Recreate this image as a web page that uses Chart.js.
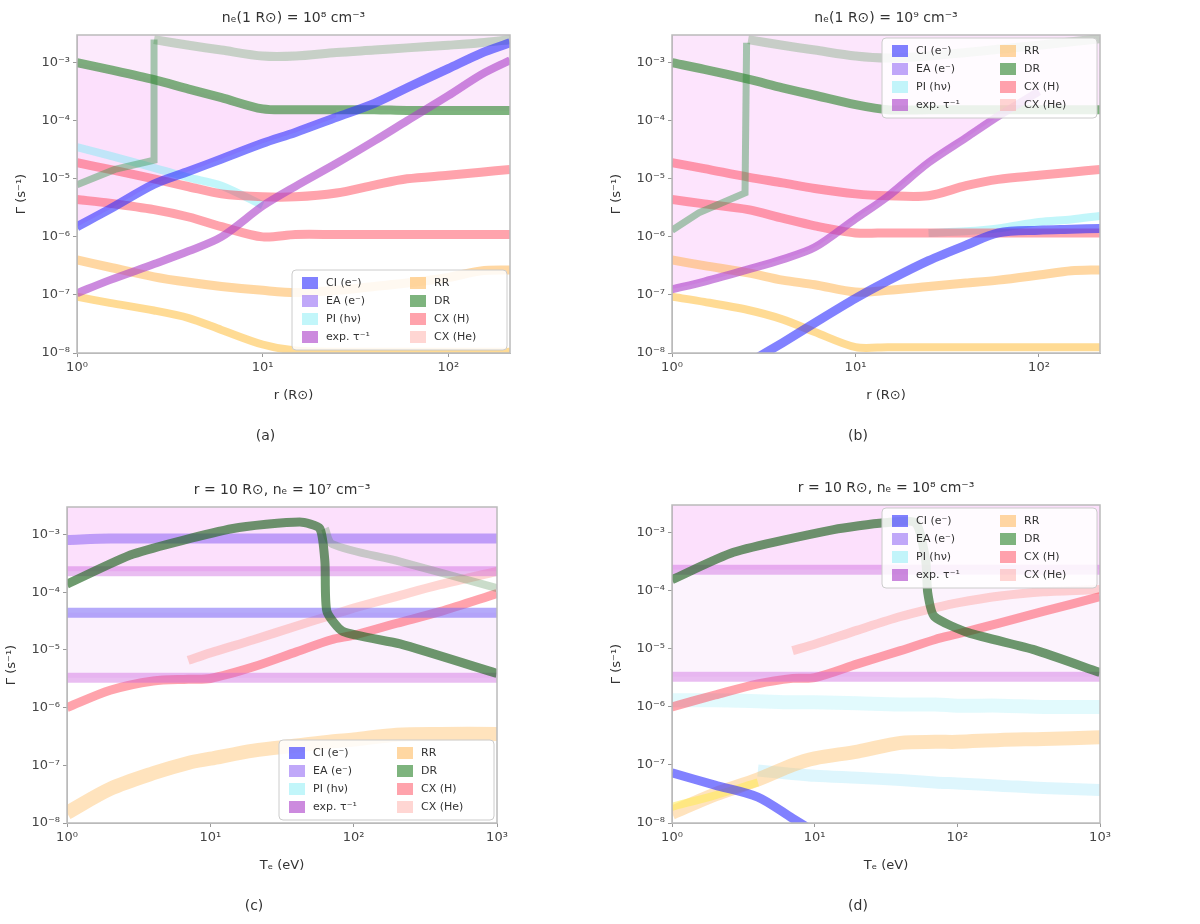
<!DOCTYPE html>
<html>
<head>
<meta charset="utf-8">
<script src="https://cdn.jsdelivr.net/npm/chart.js@4"></script>
<style>
  body { margin: 0; background: #fff; }
  canvas { position: absolute; }
</style>
</head>
<body>
<canvas id="chartA" width="600" height="462" style="left:0;top:0"></canvas>
<canvas id="chartB" width="600" height="462" style="left:600px;top:0"></canvas>
<canvas id="chartC" width="600" height="462" style="left:0;top:462px"></canvas>
<canvas id="chartD" width="600" height="462" style="left:600px;top:462px"></canvas>
<script>
// ---- axis ticks / labels
var topTicksX = [1, 10, 100];
var botTicksX = [1, 10, 100, 1000];
var ticksY = [1e-8, 1e-7, 1e-6, 1e-5, 1e-4, 1e-3];
var panelTitles = ["nₑ(1 R⊙) = 10⁸ cm⁻³", "nₑ(1 R⊙) = 10⁹ cm⁻³", "r = 10 R⊙, nₑ = 10⁷ cm⁻³", "r = 10 R⊙, nₑ = 10⁸ cm⁻³"];
var panelCaptions = ["(a)", "(b)", "(c)", "(d)"];
var legendNames = ["CI (e⁻)", "EA (e⁻)", "PI (hν)", "exp. τ⁻¹", "RR", "DR", "CX (H)", "CX (He)"];

// ---- top panels, x = r (R_sun)
var rGrid = [1, 1.5, 2.6, 4, 6, 10, 15, 25, 40, 60, 100, 150, 215];

var aGreen = [1.0e-3, 7.6e-4, 5.1e-4, 3.5e-4, 2.5e-4, 1.6e-4, 1.55e-4, 1.55e-4, 1.55e-4, 1.5e-4, 1.5e-4, 1.5e-4, 1.5e-4];
var aGreenUp = [null, null, 2.5e-3, 2.0e-3, 1.65e-3, 1.3e-3, 1.3e-3, 1.5e-3, 1.65e-3, 1.8e-3, 2.0e-3, 2.2e-3, 2.5e-3];
var aJumpR = [1, 1.6, 2.6, 2.6];
var aJumpY = [7.9e-6, 1.45e-5, 2.1e-5, 2.5e-3];
var aBlue = [1.5e-6, 3.0e-6, 8.1e-6, 1.35e-5, 2.2e-5, 4.1e-5, 6.3e-5, 1.15e-4, 2.0e-4, 3.7e-4, 7.9e-4, 1.45e-3, 2.2e-3];
var aPurple = [1.07e-7, 1.8e-7, 3.4e-7, 5.7e-7, 1.0e-6, 3.4e-6, 7.4e-6, 1.85e-5, 4.5e-5, 1.0e-4, 2.7e-4, 6.2e-4, 1.1e-3];
var aRedUp = [1.9e-5, 1.45e-5, 1.0e-5, 7.3e-6, 5.5e-6, 4.9e-6, 4.9e-6, 5.7e-6, 7.8e-6, 1.0e-5, 1.15e-5, 1.3e-5, 1.45e-5];
var aRedLow = [4.4e-6, 3.8e-6, 2.95e-6, 2.2e-6, 1.5e-6, 1.0e-6, 1.1e-6, 1.1e-6, 1.1e-6, 1.1e-6, 1.1e-6, 1.1e-6, 1.1e-6];
var aOrange = [4.0e-7, 3.0e-7, 2.05e-7, 1.65e-7, 1.4e-7, 1.2e-7, 1.1e-7, 1.2e-7, 1.4e-7, 1.6e-7, 2.0e-7, 2.6e-7, 2.7e-7];
var aYellow = [9.3e-8, 7.3e-8, 5.4e-8, 4.0e-8, 2.5e-8, 1.4e-8, 1.1e-8, 1.05e-8, 1.05e-8, 1.05e-8, 1.05e-8, 1.05e-8, 1.05e-8];
var aCyan = [3.5e-5, 2.5e-5, 1.55e-5, 1.05e-5, 7.6e-6, 3.5e-6, null, null, null, null, null, null, null];

var bGreen = [1.0e-3, 7.7e-4, 5.2e-4, 3.7e-4, 2.75e-4, 1.9e-4, 1.55e-4, 1.55e-4, 1.55e-4, 1.55e-4, 1.55e-4, 1.55e-4, 1.55e-4];
var bGreenUp = [null, null, 2.5e-3, 2.0e-3, 1.65e-3, 1.3e-3, 1.2e-3, 1.3e-3, 1.5e-3, 1.7e-3, 2.0e-3, 2.3e-3, 2.6e-3];
var bJumpR = [1, 1.4, 2.5, 2.55];
var bJumpY = [1.3e-6, 2.6e-6, 5.7e-6, 2.2e-3];
var bPurple = [1.25e-7, 1.7e-7, 2.75e-7, 4.1e-7, 6.6e-7, 2.05e-6, 5.0e-6, 1.9e-5, 5.1e-5, 1.2e-4, 3.2e-4, null, null];
var bBlue = [null, null, 6.7e-9, 1.5e-8, 3.3e-8, 8.7e-8, 1.75e-7, 3.9e-7, 7.2e-7, 1.17e-6, 1.3e-6, 1.35e-6, 1.4e-6];
var bRedUp = [1.9e-5, 1.5e-5, 1.07e-5, 8.5e-6, 6.8e-6, 5.5e-6, 5.1e-6, 5.1e-6, 7.6e-6, 9.8e-6, 1.15e-5, 1.3e-5, 1.45e-5];
var bRedLow = [4.4e-6, 3.7e-6, 2.95e-6, 2.1e-6, 1.55e-6, 1.17e-6, 1.17e-6, 1.17e-6, 1.17e-6, 1.17e-6, 1.17e-6, 1.17e-6, 1.17e-6];
var bOrange = [4.0e-7, 3.2e-7, 2.4e-7, 1.8e-7, 1.5e-7, 1.12e-7, 1.2e-7, 1.4e-7, 1.6e-7, 1.8e-7, 2.2e-7, 2.6e-7, 2.7e-7];
var bYellow = [9.3e-8, 7.6e-8, 5.5e-8, 3.8e-8, 2.3e-8, 1.26e-8, 1.26e-8, 1.26e-8, 1.26e-8, 1.26e-8, 1.26e-8, 1.26e-8, 1.26e-8];
var bCyan = [null, null, null, null, null, null, null, 1.17e-6, 1.25e-6, 1.4e-6, 1.8e-6, 2.0e-6, 2.3e-6];

// ---- bottom panels, x = T_e (eV)
var tGrid = [1, 2, 4, 7, 10, 20, 40, 70, 100, 200, 400, 1000];

var cGreenT = [1, 2.9, 14.4, 42, 58, 63, 65, 84, 211, 1000];
var cGreenY = [1.38e-4, 4.6e-4, 1.27e-3, 1.65e-3, 1.27e-3, 3.4e-4, 4.7e-5, 2.1e-5, 1.27e-5, 3.9e-6];
var cGreenUpT = [63, 71, 211, 1000];
var cGreenUpY = [1.27e-3, 6.8e-4, 3.4e-4, 1.18e-4];
var cViolet = [8.0e-4, 8.5e-4, 8.5e-4, 8.5e-4, 8.5e-4, 8.5e-4, 8.5e-4, 8.5e-4, 8.5e-4, 8.5e-4, 8.5e-4, 8.5e-4];
var cMagUp = [2.3e-4, 2.3e-4, 2.3e-4, 2.3e-4, 2.3e-4, 2.3e-4, 2.3e-4, 2.3e-4, 2.3e-4, 2.3e-4, 2.3e-4, 2.3e-4];
var cBlueViolet = [4.4e-5, 4.4e-5, 4.4e-5, 4.4e-5, 4.4e-5, 4.4e-5, 4.4e-5, 4.4e-5, 4.4e-5, 4.4e-5, 4.4e-5, 4.4e-5];
var cMagLow = [3.3e-6, 3.3e-6, 3.3e-6, 3.3e-6, 3.3e-6, 3.3e-6, 3.3e-6, 3.3e-6, 3.3e-6, 3.3e-6, 3.3e-6, 3.3e-6];
var cRed = [1.0e-6, 2.0e-6, 2.9e-6, 3.1e-6, 3.2e-6, 5.1e-6, 9.3e-6, 1.5e-5, 1.8e-5, 2.9e-5, 4.6e-5, 9.5e-5];
var cSalmon = [null, null, null, 6.6e-6, 8.9e-6, 1.5e-5, 2.6e-5, 4.0e-5, 5.3e-5, 8.5e-5, 1.35e-4, 2.3e-4];
var cOrange = [1.5e-8, 3.9e-8, 7.3e-8, 1.1e-7, 1.3e-7, 1.8e-7, 2.2e-7, 2.6e-7, 2.8e-7, 3.4e-7, 3.5e-7, 3.5e-7];

var dGreenT = [1, 2.7, 13.6, 30.6, 51, 60, 62, 69, 119, 348, 1000];
var dGreenY = [1.55e-4, 4.6e-4, 1.13e-3, 1.48e-3, 1.48e-3, 3.4e-4, 9.3e-5, 3.6e-5, 1.9e-5, 9.6e-6, 3.9e-6];
var dMagUp = [2.3e-4, 2.3e-4, 2.3e-4, 2.3e-4, 2.3e-4, 2.3e-4, 2.3e-4, 2.3e-4, 2.3e-4, 2.3e-4, 2.3e-4, 2.3e-4];
var dMagLow = [3.3e-6, 3.3e-6, 3.3e-6, 3.3e-6, 3.3e-6, 3.3e-6, 3.3e-6, 3.3e-6, 3.3e-6, 3.3e-6, 3.3e-6, 3.3e-6];
var dRed = [1.0e-6, 1.6e-6, 2.5e-6, 3.1e-6, 3.2e-6, 5.5e-6, 9.3e-6, 1.45e-5, 1.8e-5, 2.8e-5, 4.4e-5, 7.9e-5];
var dSalmon = [null, null, null, 9.3e-6, 1.2e-5, 2.1e-5, 3.6e-5, 5.1e-5, 6.2e-5, 8.1e-5, 9.6e-5, 1.05e-4];
var dOrange = [1.5e-8, 3.1e-8, 5.6e-8, 1.0e-7, 1.3e-7, 1.7e-7, 2.4e-7, 2.5e-7, 2.5e-7, 2.7e-7, 2.8e-7, 3.0e-7];
var dBlue = [7.3e-8, 4.5e-8, 2.8e-8, 1.2e-8, 7.0e-9, null, null, null, null, null, null, null];
var dYellow = [1.9e-8, 3.0e-8, 5.0e-8, null, null, null, null, null, null, null, null, null];
var dCyanUp = [1.3e-6, 1.3e-6, 1.25e-6, 1.2e-6, 1.2e-6, 1.15e-6, 1.1e-6, 1.1e-6, 1.05e-6, 1.05e-6, 1.0e-6, 1.0e-6];
var dCyanLow = [null, null, 8e-8, 7e-8, 6.5e-8, 6.0e-8, 5.5e-8, 5e-8, 4.8e-8, 4.4e-8, 4.0e-8, 3.7e-8];

// ---- colours
var BLUE = "rgba(45,45,255,0.6)";
var VIOLET = "rgba(150,110,245,0.6)";
var CYAN = "rgba(120,235,245,0.45)";
var MAGENTA = "rgba(170,60,200,0.6)";
var ORANGE = "rgba(255,175,70,0.5)";
var GREEN = "rgba(40,130,40,0.6)";
var RED = "rgba(255,50,70,0.45)";
var SALMON = "rgba(255,120,110,0.3)";
var YELLOW = "rgba(255,235,80,0.55)";
var NONE = "rgba(0,0,0,0)";
var legendColors = [BLUE, VIOLET, CYAN, MAGENTA, ORANGE, GREEN, RED, SALMON];

Chart.defaults.font.family = "'DejaVu Sans', sans-serif";
Chart.defaults.color = "#333";

var supMap = { "-": "⁻", "0": "⁰", "1": "¹", "2": "²", "3": "³", "4": "⁴", "5": "⁵", "6": "⁶", "7": "⁷", "8": "⁸", "9": "⁹" };
function pow10(v) {
  var e = String(Math.round(Math.log10(v)));
  return "10" + e.split("").map(function (c) { return supMap[c]; }).join("");
}

function pts(xs, ys) {
  return xs.map(function (x, i) { return { x: x, y: ys[i] }; });
}
function upTo(xs, ys, lim) {
  return ys.map(function (v, i) { return xs[i] <= lim ? v : null; });
}
function line(xs, ys, color, width, extra) {
  return Object.assign({
    data: pts(xs, ys), borderColor: color, borderWidth: width,
    pointRadius: 0, fill: false, tension: 0.3, spanGaps: false, order: 1,
  }, extra || {});
}
function band(xs, ys, color, fill) {
  return { data: pts(xs, ys), borderWidth: 0, borderColor: NONE, pointRadius: 0,
    backgroundColor: color, fill: fill, tension: 0.3, order: 10 };
}

// texts, frame and legend drawn on the chart canvas
var panelText = {
  id: "panelText",
  afterDatasetsDraw: function (chart, args, o) {
    var ctx = chart.ctx, a = chart.chartArea;
    var cx = (a.left + a.right) / 2;
    ctx.save();
    ctx.strokeStyle = "#bbb";
    ctx.lineWidth = 1.5;
    ctx.strokeRect(a.left, a.top, a.right - a.left, a.bottom - a.top);

    // legend box
    var w = 215, h = 80;
    var lx = a.right - w - 3;
    var ly = o.legendTop ? a.top + 3 : a.bottom - h - 3;
    ctx.fillStyle = "rgba(255,255,255,0.85)";
    ctx.strokeStyle = "#ccc";
    ctx.lineWidth = 1;
    ctx.beginPath();
    ctx.roundRect(lx, ly, w, h, 4);
    ctx.fill();
    ctx.stroke();
    ctx.font = "11px 'DejaVu Sans'";
    ctx.textAlign = "left";
    ctx.textBaseline = "middle";
    legendNames.forEach(function (name, i) {
      var col = Math.floor(i / 4), row = i % 4;
      var sx = lx + 10 + col * 108, sy = ly + 13 + row * 18;
      ctx.fillStyle = legendColors[i];
      ctx.fillRect(sx, sy - 6, 16, 12);
      ctx.fillStyle = "#333";
      ctx.fillText(name, sx + 24, sy);
    });

    ctx.fillStyle = "#333";
    ctx.textAlign = "center";
    ctx.font = "14px 'DejaVu Sans'";
    ctx.fillText(o.title, cx, a.top - 17);
    ctx.font = "13px 'DejaVu Sans'";
    ctx.fillText(o.xLabel, cx, a.bottom + 43);
    ctx.font = "14px 'DejaVu Sans'";
    ctx.fillText(o.caption, cx - 28, a.bottom + 83);
    ctx.translate(a.left - 55, (a.top + a.bottom) / 2);
    ctx.rotate(-Math.PI / 2);
    ctx.font = "13px 'DejaVu Sans'";
    ctx.fillText("Γ (s⁻¹)", 0, 0);
    ctx.restore();
  },
};

function makePanel(id, geo, xMin, xMax, xTicks, datasets, text) {
  return new Chart(document.getElementById(id), {
    type: "line",
    data: { datasets: datasets },
    plugins: [panelText],
    options: {
      responsive: false,
      animation: false,
      events: [],
      layout: { padding: { left: 0, top: geo.T, right: 600 - geo.R, bottom: 0 } },
      plugins: { legend: { display: false }, tooltip: { enabled: false }, panelText: text },
      scales: {
        x: {
          type: "logarithmic", min: xMin, max: xMax,
          afterBuildTicks: function (s) { s.ticks = xTicks.map(function (v) { return { value: v }; }); },
          afterFit: function (s) { s.height = 462 - geo.B; },
          ticks: { callback: function (v) { return pow10(v); }, font: { size: 13 }, color: "#444", maxRotation: 0, autoSkip: false },
          grid: { display: true, drawOnChartArea: false, drawTicks: true, tickLength: 4, color: "#999" },
          border: { color: "#bbb" },
        },
        y: {
          type: "logarithmic", min: 1e-8, max: 3e-3,
          afterBuildTicks: function (s) { s.ticks = ticksY.map(function (v) { return { value: v }; }); },
          afterFit: function (s) { s.width = geo.L; },
          ticks: { callback: function (v) { return pow10(v); }, font: { size: 13 }, color: "#444", autoSkip: false },
          grid: { display: true, drawOnChartArea: false, drawTicks: true, tickLength: 4, color: "#999" },
          border: { color: "#bbb" },
        },
      },
    },
  });
}

// (a)  dataset 2 is the dark green line
makePanel("chartA", { L: 77, R: 510, T: 35, B: 353 }, 1, 215, topTicksX, [
  line(rGrid, aBlue, BLUE, 9),
  line(rGrid, aPurple, MAGENTA, 8),
  line(rGrid, aGreen, GREEN, 9),
  line(rGrid, aGreenUp, "rgba(60,140,60,0.28)", 9),
  line(aJumpR, aJumpY, "rgba(60,150,80,0.45)", 7, { tension: 0 }),
  line(rGrid, aRedUp, RED, 9),
  line(rGrid, aRedLow, RED, 9),
  line(rGrid, aCyan, CYAN, 8),
  line(rGrid, aOrange, ORANGE, 9),
  line(rGrid, aYellow, "rgba(255,190,60,0.55)", 8),
  band(rGrid, upTo(rGrid, aBlue, 25), "rgba(245,130,245,0.25)", 2),
  band(rGrid, aGreen, "rgba(240,150,240,0.2)", "end"),
], { title: panelTitles[0], caption: panelCaptions[0], xLabel: "r (R⊙)", legendTop: false });

// (b)  dataset 2 is the dark green line
makePanel("chartB", { L: 72, R: 500, T: 35, B: 353 }, 1, 215, topTicksX, [
  line(rGrid, bPurple, MAGENTA, 8),
  line(rGrid, bBlue, BLUE, 9),
  line(rGrid, bGreen, GREEN, 9),
  line(rGrid, bGreenUp, "rgba(60,140,60,0.28)", 9),
  line(bJumpR, bJumpY, "rgba(60,150,80,0.45)", 7, { tension: 0 }),
  line(rGrid, bRedUp, RED, 9),
  line(rGrid, bRedLow, RED, 9),
  line(rGrid, bCyan, CYAN, 8),
  line(rGrid, bOrange, ORANGE, 9),
  line(rGrid, bYellow, "rgba(255,190,60,0.55)", 8),
  band(rGrid, upTo(rGrid, bPurple, 60), "rgba(245,130,245,0.22)", 2),
  band(rGrid, bGreen, "rgba(240,140,240,0.22)", "end"),
], { title: panelTitles[1], caption: panelCaptions[1], xLabel: "r (R⊙)", legendTop: true });

// (c)
makePanel("chartC", { L: 67, R: 497, T: 45, B: 361 }, 1, 1000, botTicksX, [
  line(cGreenT, cGreenY, "rgba(30,100,30,0.65)", 9, { tension: 0.2 }),
  line(cGreenUpT, cGreenUpY, "rgba(80,140,80,0.3)", 8),
  line(tGrid, cViolet, VIOLET, 10),
  line(tGrid, cMagUp, "rgba(200,90,220,0.4)", 10),
  line(tGrid, cBlueViolet, "rgba(120,100,245,0.55)", 10),
  line(tGrid, cMagLow, "rgba(200,90,220,0.4)", 10),
  line(tGrid, cRed, RED, 9),
  line(tGrid, cSalmon, SALMON, 9),
  line(tGrid, cOrange, "rgba(255,185,90,0.4)", 14),
  band(tGrid, cMagUp, "rgba(245,130,245,0.25)", "end"),
  band(tGrid, cBlueViolet, "rgba(230,150,240,0.14)", { value: cMagLow[0] }),
], { title: panelTitles[2], caption: panelCaptions[2], xLabel: "Tₑ (eV)", legendTop: false });

// (d)
makePanel("chartD", { L: 72, R: 500, T: 43, B: 361 }, 1, 1000, botTicksX, [
  line(dGreenT, dGreenY, "rgba(30,100,30,0.65)", 9, { tension: 0.2 }),
  line(tGrid, dMagUp, "rgba(200,90,220,0.4)", 10),
  line(tGrid, dMagLow, "rgba(200,90,220,0.4)", 10),
  line(tGrid, dRed, RED, 9),
  line(tGrid, dSalmon, SALMON, 9),
  line(tGrid, dBlue, BLUE, 9),
  line(tGrid, dYellow, YELLOW, 8),
  line(tGrid, dOrange, "rgba(255,185,90,0.4)", 14),
  line(tGrid, dCyanUp, "rgba(160,240,250,0.3)", 14),
  line(tGrid, dCyanLow, "rgba(160,230,250,0.35)", 12),
  band(tGrid, dMagUp, "rgba(245,130,245,0.25)", "end"),
  band(tGrid, dMagUp, "rgba(230,160,240,0.12)", { value: dMagLow[0] }),
], { title: panelTitles[3], caption: panelCaptions[3], xLabel: "Tₑ (eV)", legendTop: true });
</script>
</body>
</html>
